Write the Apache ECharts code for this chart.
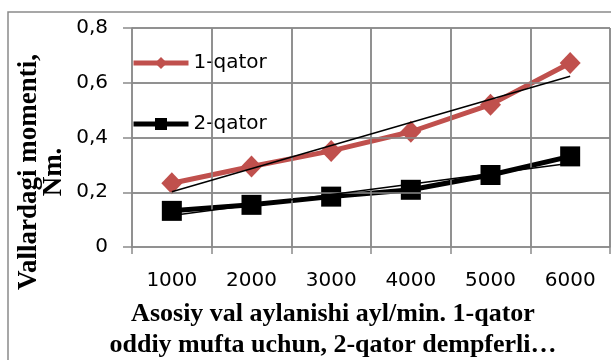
<!DOCTYPE html>
<html>
<head>
<meta charset="utf-8">
<script src="https://cdn.jsdelivr.net/npm/echarts@6/dist/echarts.min.js"></script>
<style>html,body{margin:0;padding:0;background:#fff}#c{width:611px;height:360px}</style>
</head>
<body>
<div id="c"></div>
<script>
const categories = ['1000', '2000', '3000', '4000', '5000', '6000'];
const series1Name = '1-qator';
const series2Name = '2-qator';
const series1 = [0.233, 0.294, 0.351, 0.421, 0.52, 0.672];
const series2 = [0.132, 0.154, 0.184, 0.209, 0.263, 0.331];
// trend line endpoints (at first and last category)
const trend1 = [0.202, 0.624];
const trend2 = [0.115, 0.306];
const yTicks = [0, 0.2, 0.4, 0.6, 0.8];
const yTitle = ['Vallardagi momenti,', 'Nm.'];
const xTitle = ['Asosiy val aylanishi ayl/min. 1-qator', 'oddiy mufta uchun, 2-qator dempferli\u2026'];

const gridColor = '#8a8a8a';
const last = categories.length - 1;
const hLines = yTicks.slice(1).map(v => ({ yAxis: v }));
const vLines = categories.map((c, i) => ({ xAxis: i + 1 }));
const chart = echarts.init(document.getElementById('c'));
chart.setOption({
  animation: false,
  color: ['#4F81BD', '#C0504D', '#000000', '#000000', gridColor],
  grid: { left: 132, right: 1, top: 28, bottom: 113, containLabel: false },
  legend: {
    orient: 'vertical', left: 126, top: 48, itemGap: 41,
    itemWidth: 55, itemHeight: 15,
    data: [series1Name, series2Name],
    lineStyle: { width: 5 },
    textStyle: { fontFamily: 'DejaVu Sans', fontSize: 20, color: '#000' }
  },
  xAxis: [
    {
      type: 'category', data: categories, boundaryGap: true,
      axisLine: { show: true, lineStyle: { color: gridColor, width: 1.5 } },
      axisTick: { show: true, length: 7, alignWithLabel: false, lineStyle: { color: gridColor, width: 1.5 } },
      splitLine: { show: true, lineStyle: { color: gridColor, width: 1.5 } },
      axisLabel: { margin: 24, fontFamily: 'DejaVu Sans', fontSize: 20, color: '#000' }
    },
    {
      type: 'value', min: 0, max: categories.length, show: false,
      splitLine: { show: false }
    }
  ],
  yAxis: {
    type: 'value', min: yTicks[0], max: yTicks[yTicks.length - 1], interval: 0.2,
    axisLine: { show: true, lineStyle: { color: gridColor, width: 1.5 } },
    axisTick: { show: true, length: 9, lineStyle: { color: gridColor, width: 1.5 } },
    splitLine: { show: true, lineStyle: { color: gridColor, width: 1.5 } },
    axisLabel: {
      margin: 24, fontFamily: 'DejaVu Sans', fontSize: 20, color: '#000',
      formatter: v => (Math.round(v * 10) / 10).toString().replace('.', ',')
    }
  },
  series: [
    {
      name: 'gridlines', type: 'line', xAxisIndex: 1, yAxisIndex: 0,
      data: [[0, 0]], symbol: 'none', showSymbol: false, silent: true, z: 1,
      lineStyle: { width: 0 },
      markLine: {
        silent: true, symbol: ['none', 'none'], animation: false,
        label: { show: false },
        lineStyle: { color: gridColor, width: 1.5, type: 'solid' },
        emphasis: { disabled: true },
        data: hLines.concat(vLines)
      }
    },
    {
      name: series1Name, type: 'line', data: series1,
      symbol: 'diamond', symbolSize: [21, 22],
      lineStyle: { width: 5 }, z: 3
    },
    {
      name: series2Name, type: 'line', data: series2,
      symbol: 'rect', symbolSize: 20,
      lineStyle: { width: 5 }, z: 3
    },
    {
      name: 'trend1', type: 'line', data: [[0, trend1[0]], [last, trend1[1]]],
      symbol: 'none', lineStyle: { width: 1.5, color: '#000' }, z: 5
    },
    {
      name: 'trend2', type: 'line', data: [[0, trend2[0]], [last, trend2[1]]],
      symbol: 'none', lineStyle: { width: 1.5, color: '#000' }, z: 5
    }
  ],
  graphic: [
    {
      type: 'polyline', shape: { points: [[8, 400], [8, 12], [620, 12]] },
      style: { fill: null, stroke: gridColor, lineWidth: 1.5 }, silent: true
    },
    {
      type: 'text', x: 42, y: 172, rotation: Math.PI / 2,
      style: {
        text: yTitle.join('\n'), fontFamily: 'Liberation Serif', fontWeight: 'bold',
        fontSize: 27, lineHeight: 25, fill: '#000', align: 'center', verticalAlign: 'middle'
      }
    },
    {
      type: 'text', x: 333, y: 330,
      style: {
        text: xTitle.join('\n'), fontFamily: 'Liberation Serif', fontWeight: 'bold',
        fontSize: 26, lineHeight: 31, fill: '#000', align: 'center', verticalAlign: 'middle'
      }
    }
  ]
});
</script>
</body>
</html>
